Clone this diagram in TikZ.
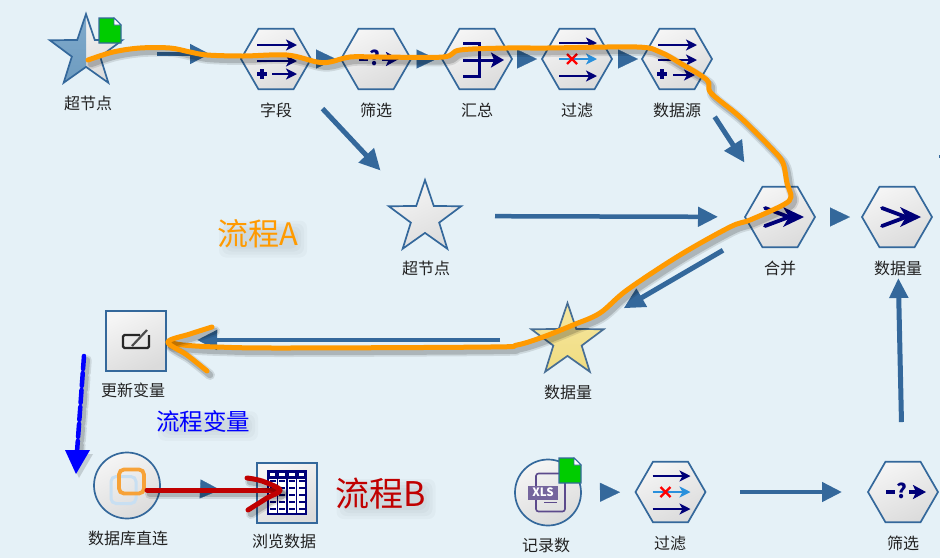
\documentclass[tikz,border=0pt]{standalone}
\usepackage{fontspec}
\setmainfont{Noto Sans CJK SC}
\usetikzlibrary{shapes.geometric,arrows.meta,calc}
\definecolor{bgc}{HTML}{E5F1F7}
\definecolor{flowc}{HTML}{34689B}
\definecolor{navyc}{HTML}{000078}
\definecolor{orangec}{HTML}{FF9A00}
\definecolor{redc}{HTML}{C00000}
\definecolor{labelc}{HTML}{222222}
\definecolor{greenc}{HTML}{00CC00}
\definecolor{purplec}{HTML}{5C4A8C}
\definecolor{yellowa}{HTML}{F6E7A0}
\definecolor{yellowb}{HTML}{F0DC80}
\definecolor{paleblue}{HTML}{C8DFF2}
\definecolor{linkorange}{HTML}{F7A238}
\definecolor{starblue}{HTML}{7FA9CB}
\definecolor{starblueb}{HTML}{6E9CC0}
\definecolor{midblue}{HTML}{2A90DC}
\tikzset{
  x=1pt,y=-1pt,
  tile/.style={draw=flowc,line width=1.7pt,top color=white!96!black,bottom color=white!86!black,shading angle=25,inner sep=0pt,outer sep=0pt},
  hexa/.style={tile,regular polygon,regular polygon sides=6,minimum size=70pt},
  disc/.style={tile,circle,minimum size=66pt},
  sqbox/.style={tile,rectangle,minimum size=60pt},
  starbox/.style={tile,star,star points=5,star point ratio=2.55,minimum size=76pt},
  lab/.style={text=labelc,font=\fontsize{16}{18}\selectfont,inner sep=0pt},
  flow/.style={draw=flowc,line width=5pt,-{Triangle[length=21pt,width=20pt]}},
  flowup/.style={draw=flowc,line width=5pt,-{Triangle[length=20pt,width=18pt]}},
  flowthin/.style={draw=flowc,line width=4.5pt,-{Triangle[length=20pt,width=19pt]}},
  headonly/.style={draw=flowc,line width=.2pt,-{Triangle[length=20pt,width=19pt]}},
  nav/.style={draw=navyc,line width=2pt,-{Stealth[length=11pt,width=11pt,inset=3pt]}},
  navbar/.style={draw=navyc,line width=3pt},
  doc/.pic={
    \fill[greenc] (0,0)--(15,0)--(22,7)--(22,25)--(0,25)--cycle;
    \draw[flowc,line width=1.2pt] (0,0)--(15,0)--(22,7)--(22,25)--(0,25)--cycle;
    \draw[flowc,line width=.8pt,fill=white] (15,0)--(15,7)--(22,7)--cycle;
  },
  plusmark/.pic={
    \draw[navbar,line width=3.2pt] (-5,0)--(5,0) (0,-5)--(0,5);
  },
  fieldsicon/.pic={
    \draw[nav] (-19,-14)--(21,-14);
    \draw[nav] (-19,2)--(21,2);
    \draw[nav] (-4,15)--(21,15);
    \pic at (-14,15) {plusmark};
  },
  filtericon/.pic={
    \draw[navbar,line width=4pt] (-17,0)--(-8,0);
    \node[text=navyc,font=\fontsize{20}{20}\bfseries\selectfont,inner sep=0pt] (qmark) at (-1,-1) {?};
    \draw[nav,line width=3.4pt,-{Stealth[length=13pt,width=14pt,inset=3pt]}] (6,0)--(23,0);
  },
  aggicon/.pic={
    \draw[navbar,line width=3pt] (-14,-16)--(2,-16)--(2,17)--(-14,17);
    \draw[navbar] (-14,1)--(2,1);
    \draw[nav,line width=3pt,-{Stealth[length=13pt,width=15pt,inset=3pt]}] (2,1)--(27,1);
  },
  selecticon/.pic={
    \draw[nav] (-18,-16)--(20,-16);
    \draw[nav,draw=midblue] (-18,0)--(20,0);
    \draw[red,line width=2.4pt] (-10,-5)--(0,5) (-10,5)--(0,-5);
    \draw[nav] (-18,17)--(20,17);
  },
  sourceicon/.pic={
    \draw[nav] (-19,-14)--(20,-14);
    \draw[nav] (-19,1)--(20,1);
    \draw[nav] (-4,16)--(18,16);
    \pic at (-15,15) {plusmark};
  },
  mergeicon/.pic={
    \draw[navyc,line width=3.8pt,line cap=round] (-15,-9)--(9,0)--(-15,9);
    \fill[navyc] (24,0)--(3,-10)--(9,0)--(3,10)--cycle;
  },
  editicon/.pic={
    \draw[black!85,line width=2.4pt,rounded corners=1.5pt] (4,-6)--(-13,-6)--(-13,7)--(13,7)--(13,-6);
    \draw[black!70,line width=2.2pt] (-4,5)--(11,-11);
  },
  linkicon/.pic={
    \draw[paleblue,line width=3pt,rounded corners=5pt] (-16,-9) rectangle (9,18);
    \draw[linkorange,line width=3.8pt,rounded corners=5pt] (-8,-16) rectangle (17,8);
  },
  tableicon/.pic={
    \fill[white] (-19,-22) rectangle (19,21);
    \foreach \cx in {-14.5,-5,5,14.5}{
      \foreach \ry in {-12,-5,2,9,16}{
        \fill[navyc] (\cx-3,\ry-1) rectangle (\cx+3,\ry+1);
      }
      \fill[navyc] (\cx-4.7,-22) rectangle (\cx+4.7,-15);
      \fill[white] (\cx-2.8,-20) rectangle (\cx+2.8,-17);
      \draw[navyc,line width=.8pt] (\cx-4.7,-15) rectangle (\cx+4.7,21);
    }
    \draw[navyc,line width=1.4pt] (-19,-22) rectangle (19,21);
  },
  xlsicon/.pic={
    \draw[purplec,line width=1.6pt,rounded corners=2.5pt] (-12,-19) rectangle (17,19);
    \fill[purplec!85!white] (-20,-7) rectangle (10,7);
    \node[text=white,font=\fontsize{11.5}{12}\bfseries\selectfont,inner sep=0pt] (xlstext) at (-5,0) {XLS};
    \draw[purplec,line width=1.2pt] (-4,10)--(9,10);
  },
}
\newcommand\freehand[3]{%
  \draw[black,opacity=.10,line width=#2+5pt,line cap=round,line join=round,xshift=3pt,yshift=-4pt] #3;
  \draw[black,opacity=.16,line width=#2+1.5pt,line cap=round,line join=round,xshift=3pt,yshift=-4pt] #3;
  \draw[#1,line width=#2,line cap=round,line join=round] #3;
}
\begin{document}
\begin{tikzpicture}
\useasboundingbox (0,0) rectangle (940,558);
\fill[bgc] (0,0) rectangle (940,558);
\fill[flowc] (938.5,155) rectangle (940,157.5);

% nodes
\node[starbox,path picture={\fill[top color=starblue,bottom color=starblueb] (path picture bounding box.south west) rectangle (path picture bounding box.north);}] (sn1) at (86,52) {};
\node[hexa] (fd) at (276,59) {};
\node[hexa] (fl) at (376,59) {};
\node[hexa] (ag) at (477,59) {};
\node[hexa] (se) at (577,59) {};
\node[hexa] (sr) at (677,59) {};
\node[starbox] (sn2) at (425,218) {};
\node[hexa] (mg) at (780,217) {};
\node[hexa] (dv1) at (897,217) {};
\node[starbox,top color=yellowa,bottom color=yellowb,draw=flowc!75!gray] (dv2) at (567.5,341) {};
\node[sqbox] (up) at (136,341) {};
\node[disc] (db) at (127,485.5) {};
\node[sqbox] (br) at (287,493) {};
\node[disc] (xl) at (548,492.5) {};
\node[hexa] (se2) at (670.5,492) {};
\node[hexa] (fl2) at (903,492) {};

% icons
\pic at (99,18) {doc};
\pic at (fd) {fieldsicon};
\pic at (fl) {filtericon};
\pic at (ag) {aggicon};
\pic at (se) {selecticon};
\pic at (sr) {sourceicon};
\pic at (mg) {mergeicon};
\pic at (dv1) {mergeicon};
\pic at (up) {editicon};
\pic at (db) {linkicon};
\pic at (br) {tableicon};
\pic at (xl) {xlsicon};
\pic at (559,458) {doc};
\pic at (se2) {selecticon};
\pic at (fl2) {filtericon};

% labels
\node[lab] (l1) at (88,103) {超节点};
\node[lab] (l2) at (276,110) {字段};
\node[lab] (l3) at (376,110) {筛选};
\node[lab] (l4) at (477,110) {汇总};
\node[lab] (l5) at (577,110) {过滤};
\node[lab] (l6) at (677,110) {数据源};
\node[lab] (l7) at (426,268) {超节点};
\node[lab] (l8) at (780,268) {合并};
\node[lab] (l9) at (898,268) {数据量};
\node[lab] (l10) at (568,392) {数据量};
\node[lab] (l11) at (133,390) {更新变量};
\node[lab] (l12) at (128,538) {数据库直连};
\node[lab] (l13) at (284,541) {浏览数据};
\node[lab] (l14) at (546,545) {记录数};
\node[lab] (l15) at (670,543) {过滤};
\node[lab] (l16) at (903,543) {筛选};

% connectors
\draw[flowthin,shorten <=71pt,shorten >=66pt] ([yshift=-2pt]sn1.center) -- ([yshift=5pt]fd.center);
\draw[headonly,shorten <=40pt,shorten >=40pt] (fd.center) -- (fl.center);
\draw[headonly,shorten <=40.5pt,shorten >=40.5pt] (fl.center) -- (ag.center);
\draw[headonly,shorten <=40pt,shorten >=40pt] (ag.center) -- (se.center);
\draw[headonly,shorten <=41pt,shorten >=39pt] (se.center) -- (sr.center);
\draw[flow,shorten <=68pt,shorten >=65pt] (fd.center) -- (sn2.center);
\draw[flow,shorten <=69pt,shorten >=65pt] (sr.center) -- (mg.center);
\draw[flowthin,shorten <=70pt,shorten >=62pt] ([yshift=2pt]sn2.center) -- (mg.center);
\draw[headonly,shorten <=50pt,shorten >=47pt] (mg.center) -- (dv1.center);
\draw[flow,shorten <=66pt,shorten >=65pt] (mg.center) -- (dv2.center);
\draw[flowthin,shorten <=67.5pt,shorten >=61pt] ([yshift=1pt]dv2.center) -- ([yshift=1pt]up.center);
\draw[flowup,shorten <=70pt,shorten >=61pt] (fl2.center) -- (dv1.center);
\draw[headonly,shorten <=52pt,shorten >=50.5pt] (xl.center) -- (se2.center);
\draw[flowthin,shorten <=69.5pt,shorten >=61pt] (se2.center) -- (fl2.center);
\draw[headonly,shorten <=73pt,shorten >=67pt] (db.center) -- (br.center);

% freehand strokes
\freehand{orangec}{5pt}{plot[smooth,tension=.55] coordinates {(88,60) (113,52) (140,48) (170,48) (190,52) (207,55) (243,56) (287,55) (317,62) (330,62) (350,57) (380,57) (443,57) (460,50) (507,48) (547,48) (637,47) (660,52) (680,63) (707,80) (711,93) (740,117) (773,150) (783,163) (787,183) (791,197) (783,205) (750,220) (730,227) (680,255) (627,290) (600,313) (573,325) (543,337) (517,345) (490,347) (280,348) (217,347) (183,345) (168,342)}}
\freehand{orangec}{5pt}{plot[smooth,tension=.55] coordinates {(212,327) (190,334) (168,342) (187,355) (207,371)}}
\freehand{redc}{5pt}{(147,490) -- (280,490)}
\freehand{redc}{5pt}{plot[smooth,tension=.55] coordinates {(247,478) (262,481) (280,490) (267,498) (248,510)}}
\freehand{blue}{4.5pt}{[dash pattern=on 13pt off 4pt] (84,356) -- (77,452)}
\fill[black,opacity=.15] (68,454) -- (93,454) -- (79,478) -- cycle;
\fill[blue] (65,450) -- (90,450) -- (76,474) -- cycle;

% big annotations with a soft smudge for their shadow
\newcommand\bigtxt[6]{%
  \foreach \gr in {-3,0,3,6}{
    \fill[black,opacity=.022,rounded corners=7pt] (#1+5-#5/2+\gr,#2+5-#4/2+\gr) rectangle (#1+5+#5/2-\gr,#2+5+#4/2-\gr);
  }
  \node[text=#3,font=\fontsize{#4}{#4}\selectfont,inner sep=0pt] at (#1,#2) {#6};
}
\bigtxt{258}{234}{orangec}{31}{82}{流程A}
\bigtxt{203}{421}{blue}{23.5}{94}{流程变量}
\bigtxt{381}{494}{redc}{34}{93}{流程B}
\end{tikzpicture}
\end{document}
